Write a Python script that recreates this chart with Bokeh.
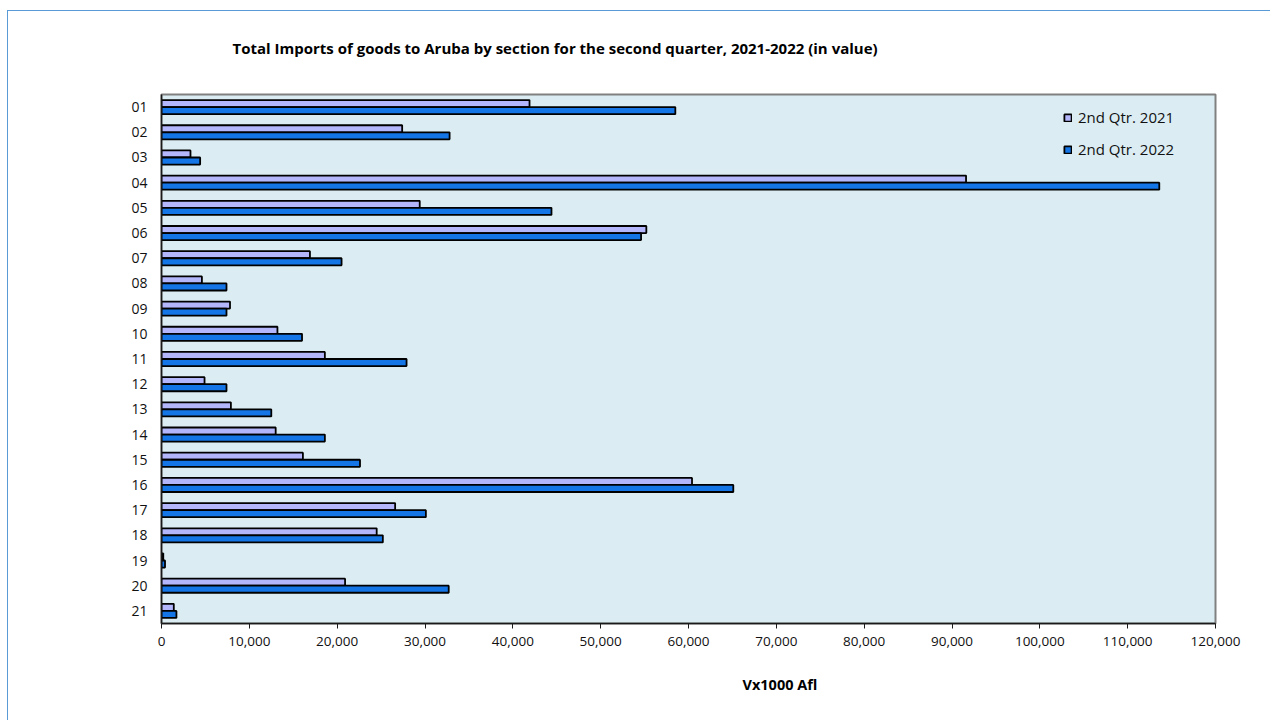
from bokeh.plotting import figure
from bokeh.models import FactorRange, Range1d, NumeralTickFormatter, SingleIntervalTicker, Title
from bokeh.transform import dodge
from bokeh.embed import file_html
from bokeh.resources import INLINE

sections = ["01", "02", "03", "04", "05", "06", "07", "08", "09", "10", "11",
            "12", "13", "14", "15", "16", "17", "18", "19", "20", "21"]
q2_2021 = [41900, 27400, 3300, 91600, 29400, 55200, 16900, 4600, 7800, 13200, 18600,
           4900, 7900, 13000, 16100, 60400, 26600, 24500, 200, 20900, 1400]
q2_2022 = [58500, 32800, 4400, 113600, 44400, 54600, 20500, 7400, 7400, 16000, 27900,
           7400, 12500, 18600, 22600, 65100, 30100, 25200, 400, 32700, 1700]
series_names = ["2nd Qtr. 2021", "2nd Qtr. 2022"]
title_text = "Total Imports of goods to Aruba by section for the second quarter, 2021-2022 (in value)"
x_label = "Vx1000 Afl"

FONT = "Open Sans"

p = figure(width=1270, height=720,
           y_range=FactorRange(factors=list(reversed(sections))),
           x_range=Range1d(0, 120000),
           output_backend="svg", toolbar_location=None,
           min_border_left=161, min_border_right=55,
           min_border_top=94, min_border_bottom=97,
           background_fill_color="#dbedf3", border_fill_alpha=0,
           outline_line_color="#808080", outline_line_width=2)
p.styles = {
    "background-color": "#ffffff",
    "background-image": "linear-gradient(#5b9bd5,#5b9bd5), linear-gradient(#5b9bd5,#5b9bd5)",
    "background-size": "100% 1px, 1px 100%",
    "background-position": "7px 10px, 7px 10px",
    "background-repeat": "no-repeat",
}

p.title = Title(text=title_text, align="left", offset=71, standoff=70,
                vertical_align="top",
                text_font=FONT, text_font_size="15px", text_font_style="bold",
                text_color="#000000")

data = dict(sec=sections, a=q2_2021, b=q2_2022)
p.hbar(y=dodge("sec", 0.14, range=p.y_range), right="a", height=0.28, source=data,
       fill_color="#b3b6fb", line_color="#000000", line_width=1.8,
       legend_label=series_names[0])
p.hbar(y=dodge("sec", -0.14, range=p.y_range), right="b", height=0.28, source=data,
       fill_color="#1476e6", line_color="#000000", line_width=1.8,
       legend_label=series_names[1])

p.xgrid.visible = False
p.ygrid.visible = False

xa = p.xaxis[0]
xa.ticker = SingleIntervalTicker(interval=10000)
xa.formatter = NumeralTickFormatter(format="0,0")
xa.major_tick_out = 5
xa.major_tick_in = 0
xa.minor_tick_out = 0
xa.minor_tick_in = 0
xa.major_label_standoff = 8
xa.axis_line_color = "#1a1a1a"
xa.axis_line_width = 1.5
xa.major_tick_line_color = "#1a1a1a"
xa.major_label_text_font = FONT
xa.major_label_text_font_size = "13.5px"
xa.major_label_text_color = "#111111"

ya = p.yaxis[0]
ya.major_tick_out = 0
ya.major_tick_in = 0
ya.major_label_standoff = 14
ya.axis_line_color = "#1a1a1a"
ya.axis_line_width = 1.5
ya.major_label_text_font = FONT
ya.major_label_text_font_size = "14px"
ya.major_label_text_color = "#111111"

p.add_layout(Title(text=x_label, align="left", offset=581, standoff=48,
                   text_font=FONT, text_font_size="14.5px", text_font_style="bold",
                   text_color="#000000"), "below")

lg = p.legend[0]
lg.location = (902, 464)
lg.margin = 0
lg.padding = 0
lg.background_fill_alpha = 0
lg.border_line_alpha = 0
lg.glyph_width = 9
lg.glyph_height = 9
lg.label_height = 20
lg.spacing = 12
lg.label_standoff = 6
lg.label_text_font = FONT
lg.label_text_font_size = "15px"
lg.label_text_color = "#111111"

open("out.html", "w").write(file_html(p, INLINE))
